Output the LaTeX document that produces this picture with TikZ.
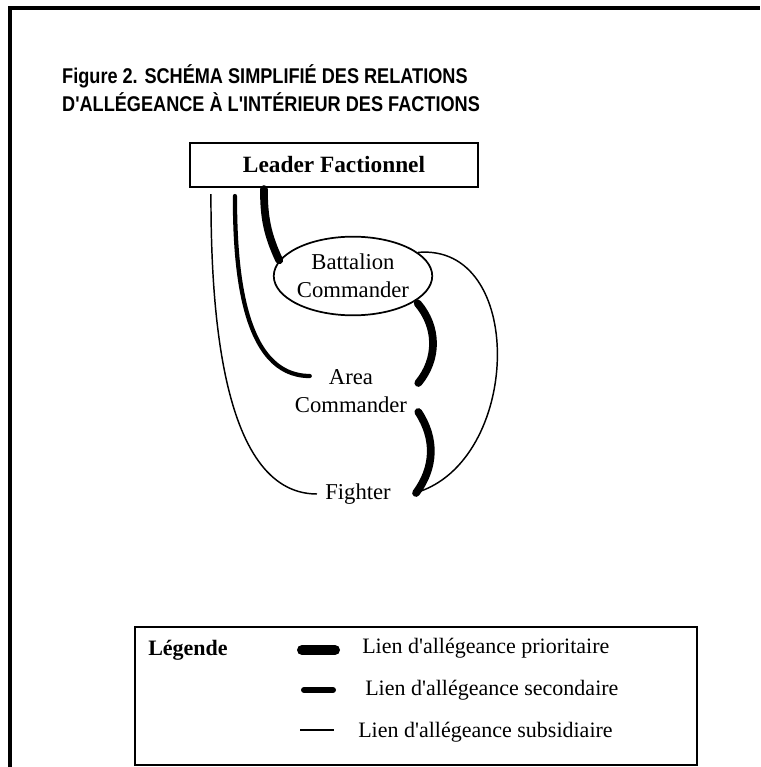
\documentclass[tikz,border=0pt]{standalone}
\usepackage{fontspec}
\setmainfont{Liberation Serif}
\newfontfamily\headfont{Liberation Sans}
\usetikzlibrary{shapes.geometric,positioning}
\newcommand{\ap}{\textquotesingle}

\begin{document}
\begin{tikzpicture}[x=0.75pt,y=0.75pt,
    every node/.style={font=\fontsize{17}{21}\selectfont},
    labelnode/.style={inner xsep=6pt,inner ysep=3pt,align=center},
    leaderbox/.style={draw,line width=1.6pt,minimum width=216pt,minimum height=33pt,
      font=\fontsize{17.5}{21}\selectfont\bfseries},
    battbox/.style={draw,ellipse,line width=1.3pt,inner sep=0pt,minimum width=115pt,
      minimum height=59pt,align=center},
    priolink/.style={line width=5.8pt,line cap=round},
    seclink/.style={line width=3.2pt,line cap=round},
    sublink/.style={line width=1.1pt},
    legendtext/.style={anchor=west,inner sep=0pt,font=\fontsize{16.5}{20}\selectfont}]
    \useasboundingbox (0,0) rectangle (760,-767);
    % Outer frame
    \draw[line width=2.3pt] (10,-767) -- (10,-8) -- (760,-8);
    % Title
    \node[anchor=north west,align=left,inner sep=0pt,xscale=0.85,transform shape,
      font=\headfont\bfseries\fontsize{16}{21}\selectfont] (title) at (62,-64)
      {Figure 2. SCHÉMA SIMPLIFIÉ DES RELATIONS\\D\ap ALLÉGEANCE À L\ap INTÉRIEUR DES FACTIONS};
    % Actors
    \node[leaderbox] (leader) at (334,-165) {Leader Factionnel};
    \node[battbox] (battalion) at (353,-276) {Battalion\\Commander};
    \node[labelnode] (area) at (351,-391) {Area\\Commander};
    \node[labelnode] (fighter) at (358,-494) {Fighter};
    % Links from the leader
    \draw[sublink] ([shift={(22,-6)}]leader.south west)
        to[out=-90,in=180,looseness=0.8] (fighter.west);
    \draw[seclink] ([shift={(46,-8)}]leader.south west)
        to[out=-90,in=180,looseness=0.9] ([shift={(23,15)}]area.west);
    \draw[priolink] ([shift={(75,-1)}]leader.south west)
        to[out=-90,in=115] (battalion.168);
    % Links down the chain
    \draw[priolink] ([shift={(6,0)}]battalion.-25)
        to[bend left=40] ([shift={(3,8)}]area.east);
    \draw[priolink] ([shift={(3,-21)}]area.east)
        to[bend left=35] ([shift={(17,1)}]fighter.east);
    \draw[sublink] (battalion.20)
        to[out=5,in=20,looseness=1.15] ([shift={(22,3)}]fighter.east);
    % Legend
    \draw[line width=1.8pt] (135,-627) rectangle (697,-765);
    \node[legendtext,font=\fontsize{16.5}{20}\selectfont\bfseries] (legtitle) at (148,-650) {Légende};
    \draw[line width=7.5pt,line cap=round] (302,-650) -- (335,-650);
    \draw[line width=4.5pt,line cap=round] (304,-690) -- (333,-690);
    \draw[line width=1.6pt] (300,-730) -- (334,-730);
    \node[legendtext] (legprio) at (362,-648) {Lien d\ap allégeance prioritaire};
    \node[legendtext] (legsec) at (365,-690) {Lien d\ap allégeance secondaire};
    \node[legendtext] (legsub) at (358,-732) {Lien d\ap allégeance subsidiaire};
\end{tikzpicture}
\end{document}
